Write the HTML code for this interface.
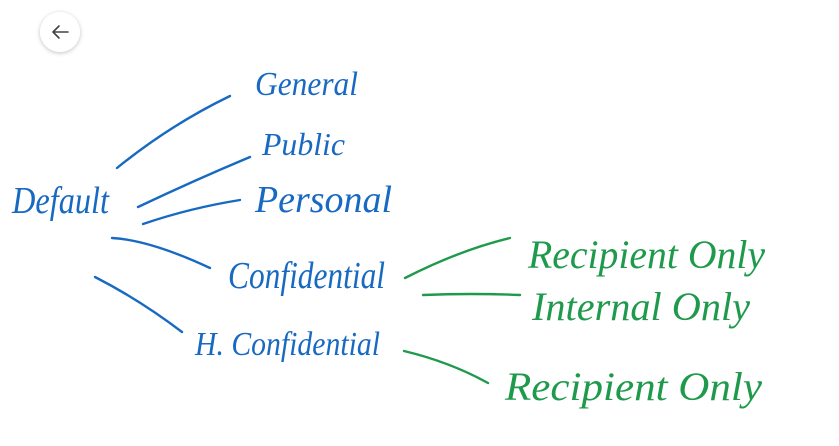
<!DOCTYPE html>
<html><head><meta charset="utf-8"><style>
html,body{margin:0;padding:0;background:#fff;width:839px;height:446px;overflow:hidden}
svg{display:block}
text{font-family:"Liberation Serif",serif;font-style:italic}
</style></head><body>
<svg width="839" height="446" viewBox="0 0 839 446">
<defs><filter id="sh" x="-50%" y="-50%" width="200%" height="200%"><feDropShadow dx="0" dy="1" stdDeviation="2" flood-color="#000" flood-opacity="0.25"/></filter></defs>
<circle cx="60" cy="32" r="20" fill="#fff" filter="url(#sh)"/>
<path d="M68 32H53M59 26l-6 6 6 6" stroke="#444" stroke-width="1.6" fill="none" stroke-linecap="round" stroke-linejoin="round"/>
<g stroke="#1769c2" stroke-width="2.4" fill="none" stroke-linecap="round">
<path d="M117 168 Q170 125 230 96"/>
<path d="M138 207 Q195 180 250 157"/>
<path d="M143 224 Q190 208 240 200"/>
<path d="M112 238 Q150 240 210 268"/>
<path d="M95 277 Q140 300 182 332"/>
</g>
<g stroke="#1f9a4c" stroke-width="2.4" fill="none" stroke-linecap="round">
<path d="M405 278 Q460 250 510 238"/>
<path d="M423 295 Q470 293 520 295"/>
<path d="M404 351 Q450 362 488 383"/>
</g>
<g fill="#1769c2">
<text x="12" y="213" font-size="38" textLength="97" lengthAdjust="spacingAndGlyphs">Default</text>
<text x="255" y="95" font-size="34" textLength="103" lengthAdjust="spacingAndGlyphs">General</text>
<text x="262" y="155" font-size="32" textLength="83" lengthAdjust="spacingAndGlyphs">Public</text>
<text x="255" y="212" font-size="38" textLength="137" lengthAdjust="spacingAndGlyphs">Personal</text>
<text x="228" y="288" font-size="38" textLength="157" lengthAdjust="spacingAndGlyphs">Confidential</text>
<text x="195" y="355" font-size="34" textLength="185" lengthAdjust="spacingAndGlyphs">H. Confidential</text>
</g>
<g fill="#1f9a4c">
<text x="528" y="268" font-size="40" textLength="237" lengthAdjust="spacingAndGlyphs">Recipient Only</text>
<text x="532" y="320" font-size="40" textLength="218" lengthAdjust="spacingAndGlyphs">Internal Only</text>
<text x="505" y="400" font-size="40" textLength="257" lengthAdjust="spacingAndGlyphs">Recipient Only</text>
</g>
</svg>
</body></html>
